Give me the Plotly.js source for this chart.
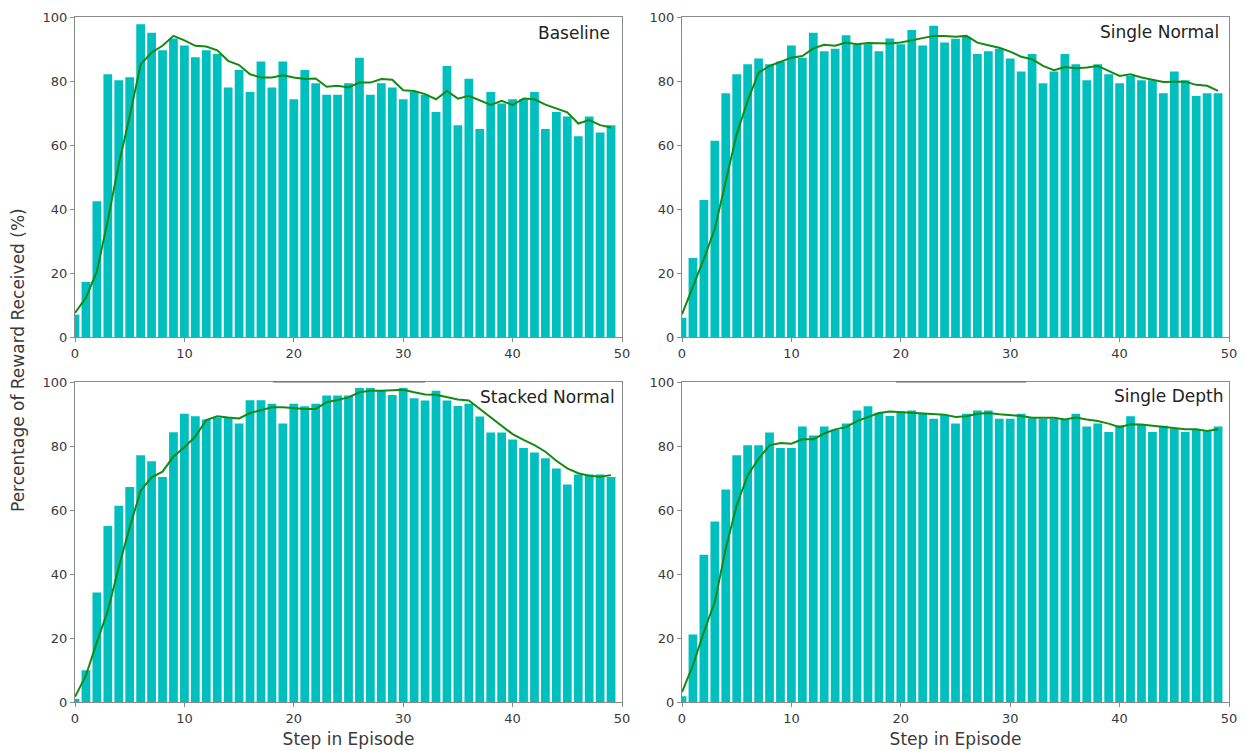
<!DOCTYPE html>
<html>
<head>
<meta charset="utf-8">
<script src="https://cdn.plot.ly/plotly-3.0.1.min.js"></script>
<style>
  html, body { margin: 0; padding: 0; background: #ffffff; }
  #chart { width: 1245px; height: 751px; }
</style>
</head>
<body>
<div id="chart"></div>
<script>
// Step index within an episode (0..49)
const steps = Array.from({length: 50}, (_, i) => i);

// Panel names
const panelTitles = ["Baseline", "Single Normal", "Stacked Normal", "Single Depth"];

// Axis tick values
const xTicks = [0, 10, 20, 30, 40, 50];
const yTicks = [0, 20, 40, 60, 80, 100];

// Percentage of reward received per step (bars) and its smoothed trend (line)
const baselineBars = [7.0, 17.2, 42.4, 82.1, 80.2, 81.2, 97.7, 95.1, 89.6, 93.3,
  91.1, 87.4, 89.6, 88.4, 78.0, 83.4, 76.6, 86.1, 78.0, 86.1,
  74.3, 83.4, 79.3, 75.7, 75.7, 79.3, 87.3, 75.7, 79.3, 78.0,
  74.3, 76.6, 75.7, 70.3, 84.7, 66.2, 80.7, 65.0, 76.6, 73.0,
  74.3, 74.3, 76.6, 65.0, 70.3, 68.9, 62.7, 68.9, 63.9, 66.2];
const baselineTrend = [7.5, 12.3, 20.5, 36.5, 54.0, 69.0, 85.2, 88.9, 91.0, 94.1,
  92.7, 91.0, 90.8, 89.6, 86.3, 85.0, 82.1, 81.1, 81.1, 81.8,
  81.1, 80.6, 80.8, 78.2, 78.5, 78.0, 79.5, 79.5, 80.6, 80.4,
  77.1, 76.9, 75.9, 74.3, 76.9, 74.5, 75.4, 74.0, 72.5, 73.8,
  72.5, 74.5, 74.3, 72.6, 71.5, 70.2, 66.7, 67.8, 66.2, 65.5];

const singleNormalBars = [6.0, 24.7, 42.8, 61.3, 76.2, 82.1, 85.2, 87.0, 85.2, 86.1,
  91.1, 87.3, 95.1, 89.3, 90.1, 94.3, 91.3, 91.5, 89.3, 93.3,
  91.5, 95.9, 91.1, 97.3, 92.0, 93.2, 93.8, 88.4, 89.3, 90.1,
  87.0, 83.0, 88.4, 79.3, 83.0, 88.4, 85.2, 80.2, 85.2, 82.1,
  79.3, 81.6, 80.2, 80.2, 76.2, 83.0, 80.2, 75.3, 76.2, 76.2];
const singleNormalTrend = [7.1, 15.6, 24.4, 33.8, 48.9, 63.4, 73.8, 82.6, 84.7, 86.1,
  87.3, 87.8, 90.2, 91.3, 91.0, 92.0, 91.5, 91.9, 91.7, 91.7,
  92.0, 92.7, 93.2, 94.1, 94.1, 93.8, 94.1, 92.0, 91.2, 90.4,
  89.2, 87.6, 86.8, 84.7, 83.4, 84.4, 84.0, 84.2, 84.7, 83.2,
  81.6, 82.1, 81.1, 80.4, 79.7, 79.8, 79.8, 78.8, 78.5, 76.9];

const stackedNormalBars = [1.0, 9.9, 34.2, 55.0, 61.3, 67.2, 77.1, 75.2, 70.3, 84.3,
  90.1, 89.3, 88.3, 88.8, 88.8, 87.0, 94.3, 94.3, 93.2, 87.0,
  93.2, 92.4, 93.2, 95.8, 95.8, 95.8, 98.1, 98.1, 97.3, 95.9,
  98.1, 94.9, 94.2, 97.3, 94.2, 92.5, 93.2, 89.2, 84.2, 84.2,
  82.0, 79.4, 78.0, 76.2, 73.0, 68.0, 71.1, 71.1, 71.1, 70.3];
const stackedNormalTrend = [1.6, 8.3, 18.7, 28.5, 42.1, 54.6, 66.0, 70.2, 72.0, 76.7,
  79.6, 83.0, 88.1, 89.3, 88.9, 88.6, 90.3, 91.3, 92.1, 92.1,
  91.8, 91.6, 91.6, 93.7, 94.4, 95.2, 96.8, 97.3, 97.3, 97.5,
  97.6, 96.8, 96.1, 96.0, 95.2, 94.5, 94.2, 91.6, 88.9, 86.4,
  83.7, 81.9, 80.3, 78.2, 75.4, 73.0, 71.5, 70.7, 70.4, 70.9];

const singleDepthBars = [1.8, 21.1, 46.0, 56.4, 66.4, 77.1, 80.2, 80.2, 84.2, 79.4,
  79.4, 86.1, 83.3, 86.1, 85.1, 87.0, 91.1, 92.4, 90.4, 89.4,
  90.8, 91.1, 90.1, 88.5, 89.6, 87.0, 90.1, 91.1, 91.1, 88.5,
  88.5, 90.1, 88.7, 88.5, 88.5, 88.2, 90.1, 86.1, 87.0, 84.4,
  86.5, 89.3, 86.7, 84.4, 86.3, 85.4, 84.4, 85.1, 84.6, 86.1];
const singleDepthTrend = [3.1, 11.5, 21.9, 31.3, 48.0, 61.5, 70.8, 76.0, 80.2, 80.9,
  80.7, 82.1, 82.1, 83.9, 85.2, 85.9, 87.8, 89.1, 90.3, 90.8,
  90.6, 90.4, 90.3, 90.1, 89.8, 89.1, 89.3, 90.1, 90.3, 89.9,
  89.6, 89.4, 88.8, 88.8, 88.8, 88.3, 88.9, 88.3, 87.8, 87.0,
  85.9, 86.8, 86.7, 86.3, 85.9, 85.4, 85.2, 85.2, 84.7, 85.2];

const barSeries = [baselineBars, singleNormalBars, stackedNormalBars, singleDepthBars];
const trendSeries = [baselineTrend, singleNormalTrend, stackedNormalTrend, singleDepthTrend];

const W = 1245, H = 751;
const BAR_COLOR = "#00bfbf";
const LINE_COLOR = "#138a13";
const SPINE = "#8a8a8a";
const TEXT = "#3a3a3a";
const FONT = "DejaVu Sans, Liberation Sans, sans-serif";

// Pixel boxes for the four panels: [left, right, top, bottom]
const boxes = [
  [75, 622, 17, 337],
  [682, 1229, 17, 337],
  [75, 622, 382, 702],
  [682, 1229, 382, 702]
];
// Title placement inside each panel: px from right edge, px from top edge
const titleOffsets = [[10, 16], [8.5, 15], [5.5, 15], [4, 14]];

const traces = [];
const layout = {
  width: W, height: H,
  margin: {l: 0, r: 0, t: 0, b: 0},
  paper_bgcolor: "#ffffff",
  plot_bgcolor: "#ffffff",
  showlegend: false,
  font: {family: FONT, color: TEXT, size: 13},
  annotations: [],
  shapes: []
};

boxes.forEach((b, k) => {
  const n = k + 1;
  const xa = "x" + (n === 1 ? "" : n);
  const ya = "y" + (n === 1 ? "" : n);
  traces.push({
    type: "bar", x: steps, y: barSeries[k], xaxis: xa, yaxis: ya,
    width: 0.8, marker: {color: BAR_COLOR, line: {width: 0}},
    hoverinfo: "skip"
  });
  traces.push({
    type: "scatter", mode: "lines", x: steps, y: trendSeries[k], xaxis: xa, yaxis: ya,
    line: {color: LINE_COLOR, width: 2}, hoverinfo: "skip"
  });

  const common = {
    showgrid: false, zeroline: false,
    showline: true, mirror: true, linecolor: SPINE, linewidth: 1,
    ticks: "outside", ticklen: 4, tickwidth: 1, tickcolor: SPINE,
    tickfont: {family: FONT, size: 13, color: TEXT}
  };
  const xKey = "xaxis" + (n === 1 ? "" : n);
  const yKey = "yaxis" + (n === 1 ? "" : n);
  layout[xKey] = Object.assign({}, common, {
    domain: [b[0] / W, b[1] / W],
    anchor: ya,
    range: [0, 50],
    tickmode: "array", tickvals: xTicks, ticktext: xTicks.map(String)
  });
  if (k >= 2) {
    layout[xKey].title = {text: "Step in Episode", font: {family: FONT, size: 17, color: TEXT}, standoff: 8};
  }
  layout[yKey] = Object.assign({}, common, {
    domain: [1 - b[3] / H, 1 - b[2] / H],
    anchor: xa,
    range: [0, 100],
    tickmode: "array", tickvals: yTicks, ticktext: yTicks.map(String)
  });

  const pw = b[1] - b[0], ph = b[3] - b[2];
  layout.annotations.push({
    text: panelTitles[k],
    xref: xa + " domain", yref: ya + " domain",
    x: 1 - titleOffsets[k][0] / pw, y: 1 - titleOffsets[k][1] / ph,
    xanchor: "right", yanchor: "middle", showarrow: false,
    font: {family: FONT, size: 17, color: "#222222"}
  });
});

// Shared y label
layout.annotations.push({
  text: "Percentage of Reward Received (%)",
  xref: "paper", yref: "paper",
  x: 18 / W, y: 1 - 360 / H, xanchor: "center", yanchor: "middle",
  textangle: -90, showarrow: false,
  font: {family: FONT, size: 17, color: TEXT}
});

// Darker stretches along the top edge of the lower panels
[[273, 425], [896, 1026]].forEach(seg => {
  layout.shapes.push({
    type: "line", xref: "paper", yref: "paper",
    x0: seg[0] / W, x1: seg[1] / W, y0: 1 - 382 / H, y1: 1 - 382 / H,
    line: {color: "#636363", width: 1.2}
  });
});

Plotly.newPlot("chart", traces, layout, {staticPlot: true, displayModeBar: false});
</script>
</body>
</html>
